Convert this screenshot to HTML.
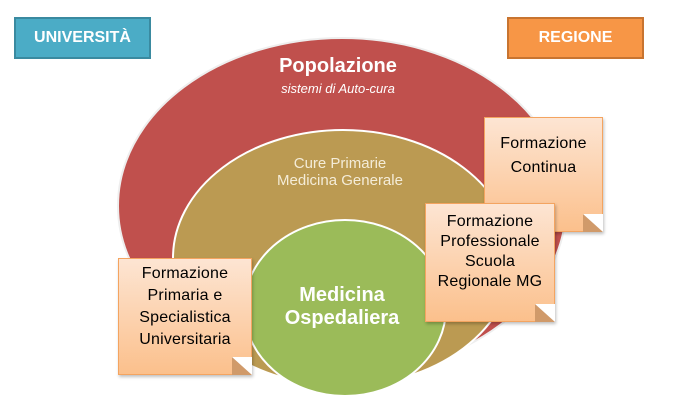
<!DOCTYPE html>
<html><head><meta charset="utf-8"><style>
body{margin:0;width:678px;height:420px;background:#fff;overflow:hidden;font-family:"Liberation Sans",sans-serif;position:relative}
.hdr{position:absolute;top:17px;height:42px;width:137px;color:#fff;font-weight:bold;font-size:16px;display:flex;align-items:center;justify-content:center;box-sizing:border-box}
.note{position:absolute;box-sizing:border-box;border:1px solid #f4a460;background:linear-gradient(#fde5d3,#fbc08c);text-align:center;font-size:16px;line-height:21px;color:#000;letter-spacing:0.2px;box-shadow:1px 2px 3px rgba(0,0,0,.25)}
.fold{position:absolute;right:-1px;bottom:-1px;width:0;height:0;border-left:20px solid #d09a6a;border-top:18px solid transparent}
.fold2{position:absolute;right:-1px;bottom:-1px;width:0;height:0;border-right:20px solid #fff;border-bottom:18px solid #fff}
</style></head><body>
<svg width="678" height="420" style="position:absolute;left:0;top:0">
<ellipse cx="342" cy="206" rx="224" ry="168" fill="#c0504d" stroke="#eee" stroke-width="2"/>
<ellipse cx="343" cy="258" rx="170" ry="128" fill="#bb9a52" stroke="#fff" stroke-width="2"/>
<ellipse cx="345" cy="308" rx="101" ry="88" fill="#9bbb59" stroke="#fff" stroke-width="2"/>
<text x="338" y="72" fill="#fff" font-size="20" font-weight="bold" text-anchor="middle">Popolazione</text>
<text x="338" y="93" fill="#fff" font-size="13" font-style="italic" text-anchor="middle">sistemi di Auto-cura</text>
<text x="340" y="168" fill="#f4ecd8" font-size="15" text-anchor="middle">Cure Primarie</text>
<text x="340" y="185" fill="#f4ecd8" font-size="15" text-anchor="middle">Medicina Generale</text>
<text x="342" y="301" fill="#fff" font-size="20" font-weight="bold" text-anchor="middle">Medicina</text>
<text x="342" y="324" fill="#fff" font-size="20" font-weight="bold" text-anchor="middle">Ospedaliera</text>
</svg>
<div class="hdr" style="left:14px;background:#4bacc6;border:2px solid #3a8aa0">UNIVERSITÀ</div>
<div class="hdr" style="left:507px;background:#f79646;border:2px solid #c87430">REGIONE</div>
<div class="note" style="left:484px;top:117px;width:119px;height:115px;padding-top:14px;line-height:24px">Formazione<br>Continua<div class="fold2"></div><div class="fold"></div></div>
<div class="note" style="left:425px;top:203px;width:130px;height:119px;padding-top:8px;line-height:20px">Formazione<br>Professionale<br>Scuola<br>Regionale MG<div class="fold2"></div><div class="fold"></div></div>
<div class="note" style="left:118px;top:258px;width:134px;height:117px;padding-top:4px;line-height:22px">Formazione<br>Primaria e<br>Specialistica<br>Universitaria<div class="fold2"></div><div class="fold"></div></div>
</body></html>
